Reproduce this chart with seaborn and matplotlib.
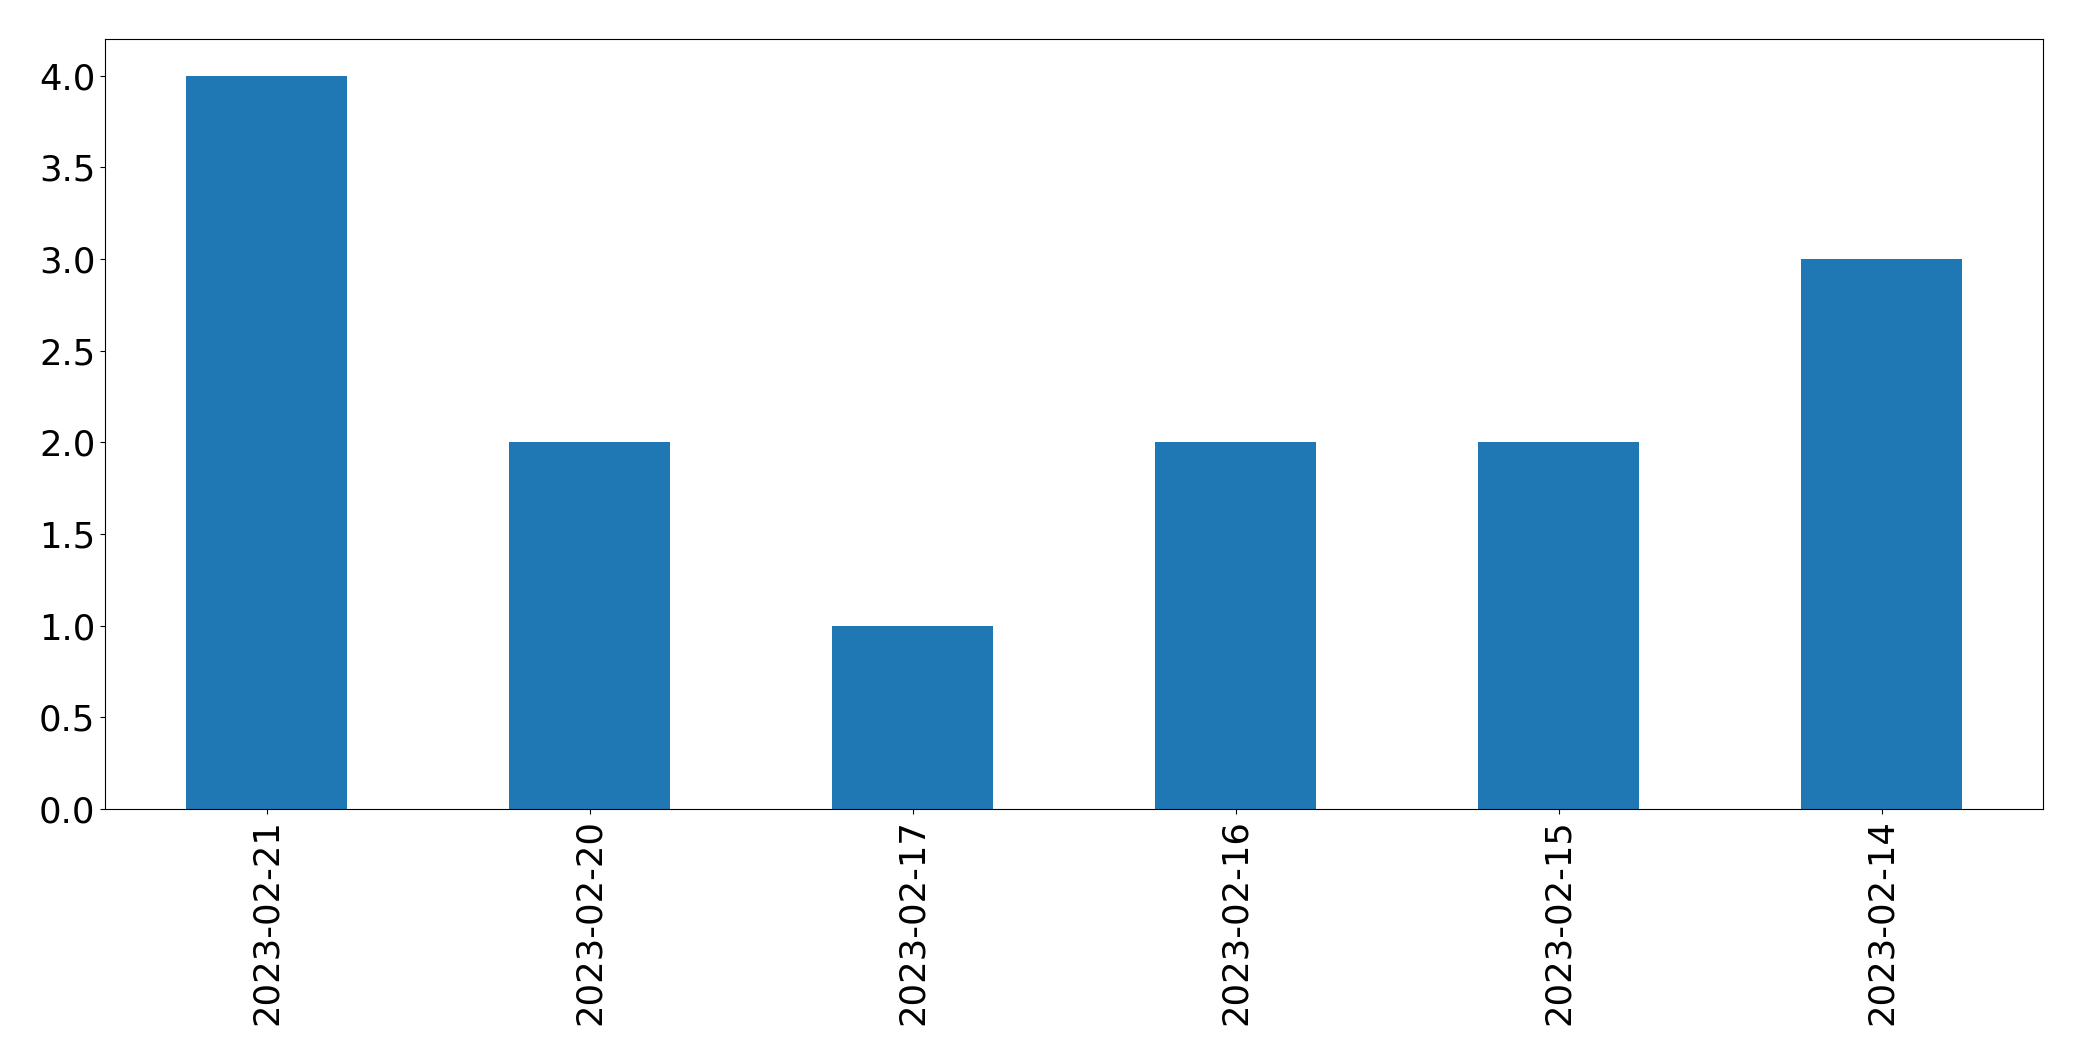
import pandas as pd
import matplotlib
matplotlib.use('Agg')
import matplotlib.pyplot as plt
import seaborn as sns

# Dados do gráfico
dates = ['2023-02-21', '2023-02-20', '2023-02-17', '2023-02-16', '2023-02-15', '2023-02-14']
counts = [4, 2, 1, 2, 2, 3]

df = pd.DataFrame({'date': dates, 'count': counts})

plt.rcParams['font.family'] = ['DejaVu Sans']
plt.rcParams['font.size'] = 25

fig, ax = plt.subplots(figsize=(20.82, 10.61), dpi=100)
fig.subplots_adjust(left=105 / 2082, right=2043 / 2082, top=1 - 39 / 1061, bottom=1 - 809 / 1061)

sns.barplot(data=df, x='date', y='count', color='#1f77b4', saturation=1, width=0.5, ax=ax)

ax.set_xlim(-0.5, len(dates) - 0.5)
ax.set_ylim(0, 4.2)
ax.set_xlabel('')
ax.set_ylabel('')
ax.tick_params(axis='both', labelsize=25.5)
ax.tick_params(axis='x', rotation=90)

plt.savefig('out.png', dpi=100)
